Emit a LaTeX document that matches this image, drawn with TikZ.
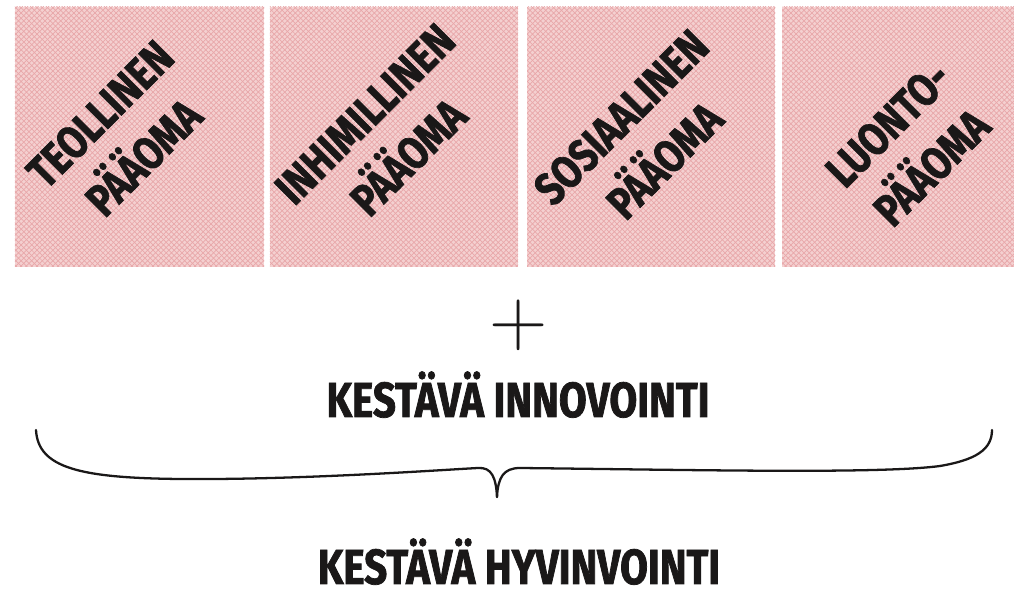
\documentclass[tikz,border=0pt]{standalone}
\usepackage{fontspec}
\usepackage{tikz}
\usetikzlibrary{patterns}
\newfontfamily\handfont[FakeStretch=0.82, BoldFeatures={FakeBold=1.5}]{Fira Sans}
\definecolor{boxpink}{RGB}{244,208,208}
\definecolor{hatchred}{RGB}{232,168,170}
\definecolor{inkblack}{RGB}{26,24,24}

\begin{document}
\begin{tikzpicture}[
  x=0.2mm, y=-0.2mm,
  capital/.style={preaction={fill=boxpink}, pattern=crosshatch, pattern color=hatchred, minimum height=5.2cm, inner sep=0pt, outer sep=0pt},
  boxtext/.style={rotate=45, align=center, inner sep=0pt, text=inkblack, font=\handfont\bfseries\fontsize{26}{35}\selectfont},
  bigtext/.style={anchor=base, inner sep=0pt, text=inkblack, font=\handfont\bfseries\fontsize{28}{30}\selectfont},
  brace/.style={draw=inkblack, line width=1.3pt, line cap=round}
]
\useasboundingbox (0,0) rectangle (1014,593);
% Capital boxes
\node[capital, minimum width=4.98cm] (b1) at (139.5,137) {};
\node[capital, minimum width=4.96cm] (b2) at (394,137) {};
\node[capital, minimum width=4.96cm] (b3) at (651,137) {};
\node[capital, minimum width=4.64cm] (b4) at (898,137) {};
% Box labels
\node[boxtext] (t1) at (122,136) {TEOLLINEN\\PÄÄOMA};
\node[boxtext] (t2) at (387,136) {INHIMILLINEN\\PÄÄOMA};
\node[boxtext] (t3) at (643,139) {SOSIAALINEN\\PÄÄOMA};
\node[boxtext] (t4) at (910,146) {LUONTO-\\PÄÄOMA};
% Plus and innovation
\node[text=inkblack, font=\fontsize{46}{46}\selectfont, inner sep=0pt] (plus) at (519,325) {+};
\node[bigtext] (inno) at (518,417) {KESTÄVÄ INNOVOINTI};
% Brace
\coordinate (bl) at (36,430);
\coordinate (br) at (992,430);
\coordinate (tip) at (497,497);
\draw[brace] (bl) .. controls (38,468) and (80,478) .. (180,479)
  .. controls (300,480) and (440,470) .. (478,468)
  .. controls (492,467) and (496,478) .. (tip);
\draw[brace] (tip) .. controls (498,478) and (503,468) .. (520,468)
  .. controls (700,470) and (880,474) .. (940,466)
  .. controls (975,460) and (992,450) .. (br);
% Wellbeing
\node[bigtext] (hyvin) at (519,584) {KESTÄVÄ HYVINVOINTI};
\end{tikzpicture}
\end{document}
